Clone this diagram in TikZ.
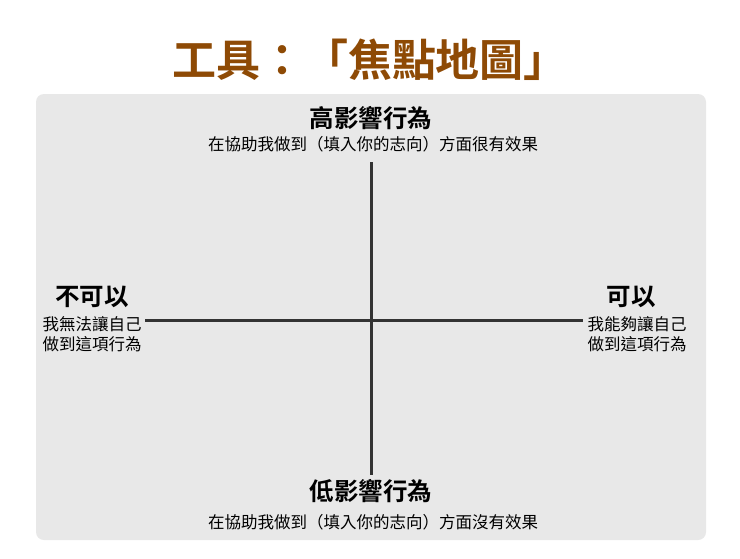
\documentclass[tikz,border=0pt]{standalone}
\usepackage{fontspec}
\setmainfont{Noto Sans CJK TC}[BoldFont={* Bold}]
\definecolor{titlec}{HTML}{8E4A05}
\definecolor{panel}{HTML}{E8E8E8}
\definecolor{axisc}{HTML}{333333}
\begin{document}
\begin{tikzpicture}[x=1pt,y=-1pt,
  head/.style={font=\bfseries\fontsize{24.5}{28}\selectfont,text=black,inner sep=0},
  sub/.style={font=\fontsize{16.5}{20}\selectfont,text=black,inner sep=0,align=center},
  axis/.style={draw=axisc,line width=3pt}]
\useasboundingbox (0,0) rectangle (740,558);
\fill[white] (0,0) rectangle (740,558);
\node[font=\bfseries\fontsize{44}{48}\selectfont,text=titlec] (title) at (370,60) {工具：「焦點地圖」};
\fill[panel,rounded corners=8pt] (36,94) rectangle (706,540);
\coordinate (top) at (371,162);
\coordinate (bot) at (371,475);
\coordinate (lft) at (145,320);
\coordinate (rgt) at (583,320);
\draw[axis] (top) -- (bot);
\draw[axis] (lft) -- (rgt);
\node[head] (hi) at (371,118) {高影響行為};
\node[sub] (his) at (373,144) {在協助我做到（填入你的志向）方面很有效果};
\node[head] (lo) at (371,491) {低影響行為};
\node[sub] (los) at (373,522) {在協助我做到（填入你的志向）方面沒有效果};
\node[head] (no) at (92,297) {不可以};
\node[sub] (nos) at (92,334) {我無法讓自己\\做到這項行為};
\node[head] (yes) at (631,297) {可以};
\node[sub] (yess) at (637,334) {我能夠讓自己\\做到這項行為};
\end{tikzpicture}
\end{document}
